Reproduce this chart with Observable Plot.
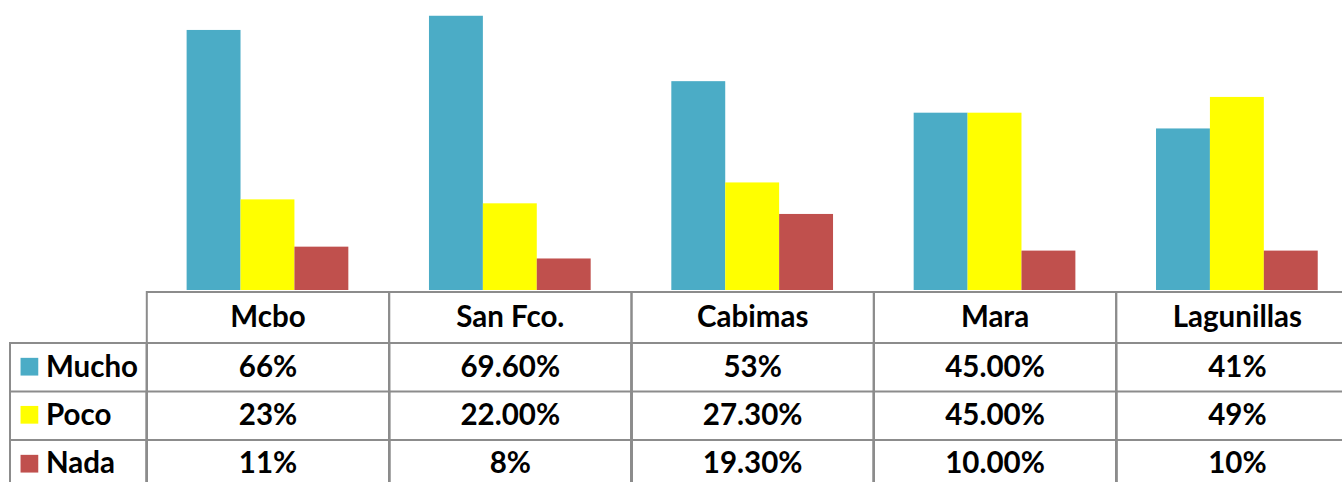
<!DOCTYPE html>
<html>
<head>
<meta charset="utf-8">
<script src="https://cdn.jsdelivr.net/npm/d3@7"></script>
<script src="https://cdn.jsdelivr.net/npm/@observablehq/plot@0.6"></script>
<style>
  html, body { margin: 0; padding: 0; background: #fff; }
  #chart { width: 1342px; height: 482px; overflow: hidden; }
</style>
</head>
<body>
<div id="chart"></div>
<script>
// ---- data ----
const categories = ["Mcbo", "San Fco.", "Cabimas", "Mara", "Lagunillas"];
const series = ["Mucho", "Poco", "Nada"];
const muchoLabels = ["66%", "69.60%", "53%", "45.00%", "41%"];
const pocoLabels = ["23%", "22.00%", "27.30%", "45.00%", "49%"];
const nadaLabels = ["11%", "8%", "19.30%", "10.00%", "10%"];
const seriesColors = ["#4BACC6", "#FFFF00", "#C0504D"];

const labelsBySeries = [muchoLabels, pocoLabels, nadaLabels];
const rows = categories.flatMap((category, i) =>
  series.map((s, j) => ({
    category,
    series: s,
    label: labelsBySeries[j][i],
    value: parseFloat(labelsBySeries[j][i])
  }))
);

// ---- layout ----
const W = 1342, H = 482;
const leftEdge = 146.3, colStep = 242.35, tableTop = 291.5;
const rightEdge = leftEdge + colStep * categories.length;
const gridColor = "#8c8c8c";
const font = {fontSize: 29.5, fontWeight: "bold", fill: "#000", lineAnchor: "middle"};
const headerDy = 25.2;
const rowDy = [76, 123.5, 171.5];      // text rows (Mucho, Poco, Nada)
const keyDy = [74.7, 122.8, 171.7];    // legend keys
const rowLines = [51, 99.5, 148];      // inner horizontal lines below the table top

const gridFrame = (o) => Plot.frame({stroke: gridColor, strokeWidth: 2, insetBottom: -6, ...o});

const chart = Plot.plot({
  width: W,
  height: H,
  marginLeft: leftEdge,
  marginRight: 0,
  marginTop: tableTop,
  marginBottom: 0,
  style: {fontFamily: "Lato, 'Open Sans', sans-serif", background: "#fff", overflow: "hidden"},
  fx: {domain: categories, range: [leftEdge, rightEdge], padding: 0, round: false, axis: null},
  x: {domain: series, paddingInner: 0, paddingOuter: 0.748, round: false, axis: null},
  y: {domain: [0, 73.6], range: [290, 0], axis: null},
  color: {domain: series, range: seriesColors},
  marks: [
    // bars
    Plot.barY(rows, {fx: "category", x: "series", y: "value", fill: "series", inset: 0}),
    // table grid for each category column
    gridFrame({}),
    ...rowLines.map((t) => gridFrame({insetTop: t})),
    // header labels
    Plot.text(categories, {fx: (d) => d, text: (d) => d, frameAnchor: "top", dy: headerDy, ...font}),
    // values
    ...series.map((s, j) =>
      Plot.text(rows.filter((r) => r.series === s), {
        fx: "category", text: "label", frameAnchor: "top", dy: rowDy[j], ...font
      })
    ),
    // left legend column grid
    ...rowLines.map((t) => gridFrame({facet: "super", insetLeft: -(leftEdge - 9.5), insetRight: rightEdge - leftEdge, insetTop: t})),
    // legend keys
    ...series.map((s, j) =>
      Plot.dot([s], {facet: "super", frameAnchor: "top-left", dx: 28.9 - leftEdge, dy: keyDy[j],
        symbol: "square", r: 10, fill: (d) => d, stroke: null})
    ),
    // legend names
    ...series.map((s, j) =>
      Plot.text([s], {facet: "super", text: (d) => d, frameAnchor: "top-left", dx: 45.5 - leftEdge, dy: rowDy[j],
        textAnchor: "start", ...font})
    )
  ]
});
document.getElementById("chart").appendChild(chart);
</script>
</body>
</html>
